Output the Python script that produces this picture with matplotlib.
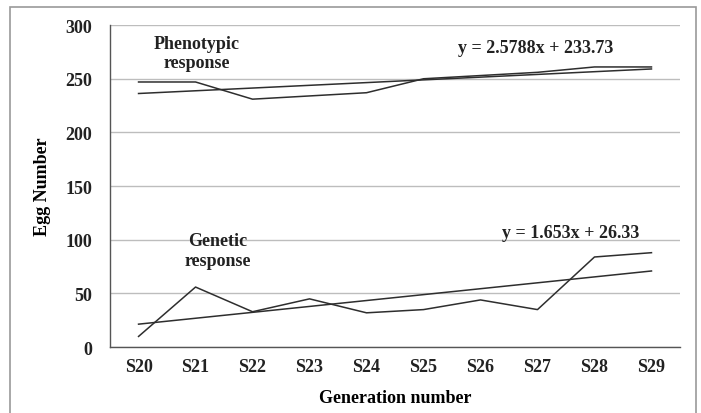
import numpy as np
import matplotlib.pyplot as plt
from matplotlib.patches import Rectangle

# ======================
# Data
# ======================
generations = ["S20", "S21", "S22", "S23", "S24", "S25", "S26", "S27", "S28", "S29"]
phenotypic = [247, 247, 231, 234, 237, 250, 253, 256, 261, 261]
genetic = [10, 56, 33, 45, 32, 35, 44, 35, 84, 88]
pheno_eq = "y = 2.5788x + 233.73"
gen_eq = "y = 1.653x + 26.33"
yticks = [0, 50, 100, 150, 200, 250, 300]

plt.rcParams['font.family'] = ['Liberation Serif', 'DejaVu Serif']

fig = plt.figure(figsize=(7.01, 4.14), dpi=100)
ax = fig.add_axes([0.157, 0.159, 0.813, 0.778])

x = np.arange(len(generations))
line_kw = dict(color='#2e2e2e', linewidth=1.1)

# series + linear trend lines
for series in (phenotypic, genetic):
    ax.plot(x, series, **line_kw)
    coef = np.polyfit(x + 1, series, 1)
    ax.plot(x, np.polyval(coef, x + 1), **line_kw)

# axes styling
ax.set_xlim(-0.5, len(generations) - 0.5)
ax.set_ylim(0, 300)
ax.set_yticks(yticks)
ax.set_xticks(x)
ax.set_xticklabels(generations)
ax.yaxis.grid(True, color='#bdbdbd', linewidth=1.0)
ax.set_axisbelow(True)
ax.tick_params(axis='y', length=0, labelsize=13, pad=13)
ax.tick_params(axis='x', length=0, labelsize=13, pad=8)
for lbl in ax.get_xticklabels() + ax.get_yticklabels():
    lbl.set_fontweight('bold')
    lbl.set_color('#222222')
for side in ('top', 'right'):
    ax.spines[side].set_visible(False)
for side in ('left', 'bottom'):
    ax.spines[side].set_color('#555555')
    ax.spines[side].set_linewidth(1.0)

ax.set_ylabel("Egg Number", fontsize=13, fontweight='bold', labelpad=10)
ax.set_xlabel("Generation number", fontsize=13, fontweight='bold', labelpad=10)

# annotations
txt = dict(fontsize=13, fontweight='bold', color='#222222', ha='center', va='center')
ax.text(1.02, 274, "Phenotypic\nresponse", linespacing=1.2, **txt)
ax.text(6.96, 279.5, pheno_eq, **txt)
ax.text(1.39, 90, "Genetic\nresponse", linespacing=1.2, **txt)
ax.text(7.59, 107, gen_eq, **txt)

# outer frame around the chart
fig.patches.append(Rectangle((10 / 701, -0.01), 686 / 701, 1 - 8 / 414 + 0.01,
                             transform=fig.transFigure, fill=False,
                             edgecolor='#9a9a9a', linewidth=1.2))

fig.savefig("out.png", dpi=100)
